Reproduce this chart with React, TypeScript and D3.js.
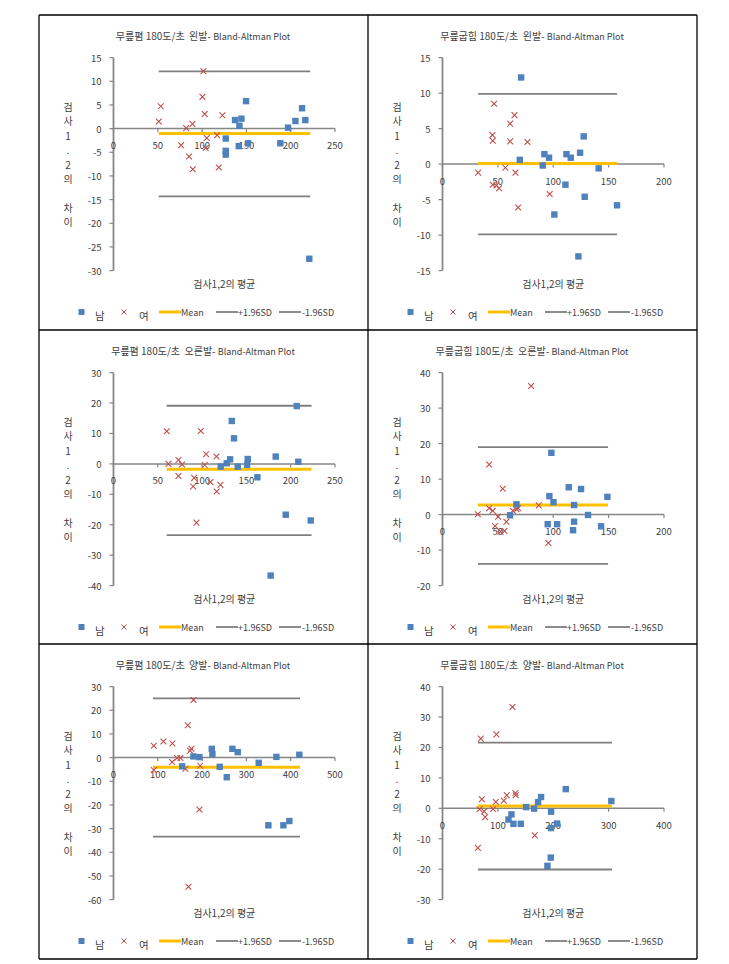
import React from "react";
import * as d3 from "d3";

// ---------- Data ----------
const legendLabels = ["남", "여", "Mean", "+1.96SD", "-1.96SD"];
const xAxisTitle = "검사1,2의 평균";
const yAxisChars = ["검", "사", "1", ".", "2", "의", "", "차", "이"];
const titleSuffix = "Bland-Altman Plot";

// Panel 1: 무릎폄 왼발
const p1Title = "무릎폄 180도/초  왼발- ";
const p1XTicks = [0, 50, 100, 150, 200, 250];
const p1YTicks = [15, 10, 5, 0, -5, -10, -15, -20, -25, -30];
const p1MaleX = [126.7, 126.7, 126.7, 137.2, 144.4, 142.1, 141.4, 149.6, 151.9, 188.3, 197, 205.3, 212.8, 216.5, 221];
const p1MaleY = [-2.1, -4.7, -5.5, 1.8, 2.1, 0.6, -3.7, 5.8, -3.1, -3.1, 0.2, 1.6, 4.3, 1.8, -27.5];
const p1FemaleX = [53.4, 51.1, 76.3, 82, 89.1, 85.3, 89.5, 101.5, 100.4, 103, 105.3, 104.1, 116.9, 118.8, 122.9];
const p1FemaleY = [4.7, 1.5, -3.5, 0.1, 1.0, -5.9, -8.6, 12.1, 6.7, 3.1, -2.0, -4.1, -1.4, -8.2, 2.8];
const p1Limits = [-1.05, 12.1, -14.3]; // mean, +1.96SD, -1.96SD
const p1LineX = [51, 222];

// Panel 2: 무릎굽힘 왼발
const p2Title = "무릎굽힘 180도/초  왼발- ";
const p2XTicks = [0, 50, 100, 150, 200];
const p2YTicks = [15, 10, 5, 0, -5, -10, -15];
const p2MaleX = [71, 69.8, 90.5, 92, 96.2, 101, 111, 111.9, 115.8, 124.2, 127.5, 128.4, 122.7, 141, 157.6];
const p2MaleY = [12.2, 0.6, -0.2, 1.4, 0.9, -7.1, -2.9, 1.4, 0.9, 1.6, 3.9, -4.6, -13, -0.6, -5.8];
const p2FemaleX = [32.2, 46.6, 45.1, 45.4, 45.4, 48.7, 51.1, 56.8, 61.1, 61.1, 65, 65.9, 68.3, 76.7, 96.8];
const p2FemaleY = [-1.2, 8.5, 4.1, 3.3, -2.9, -3.0, -3.4, -0.5, 5.7, 3.2, 6.9, -1.2, -6.1, 3.1, -4.2];
const p2Limits = [0.1, 9.9, -9.9];
const p2LineX = [32.2, 157.6];

// Panel 3: 무릎폄 오른발
const p3Title = "무릎폄 180도/초  오른발- ";
const p3XTicks = [0, 50, 100, 150, 200, 250];
const p3YTicks = [30, 20, 10, 0, -10, -20, -30, -40];
const p3MaleX = [121, 127.8, 131.6, 133.5, 136, 140.2, 150.8, 151.5, 162.4, 183.1, 194.4, 177.4, 206.8, 208.6, 222.6];
const p3MaleY = [-0.9, 0.2, 1.5, 14.1, 8.4, -0.9, -0.3, 1.6, -4.4, 2.4, -16.7, -36.7, 19, 0.7, -18.6];
const p3FemaleX = [60.2, 62, 73.3, 73.3, 77.4, 89.8, 91, 93.6, 98.5, 103, 104.5, 109.4, 116.2, 116.5, 120.7];
const p3FemaleY = [10.7, 0, 1.3, -4, -0.2, -7.4, -4.6, -19.3, 10.8, -0.4, 3.2, -6, 2.4, -9.1, -6.9];
const p3Limits = [-1.8, 19.1, -23.4];
const p3LineX = [60, 223.5];

// Panel 4: 무릎굽힘 오른발
const p4Title = "무릎굽힘 180도/초  오른발- ";
const p4XTicks = [0, 50, 100, 150, 200];
const p4YTicks = [40, 30, 20, 10, 0, -10, -20];
const p4MaleX = [61, 66.8, 95, 96.5, 98.3, 100.2, 103.5, 114, 118.8, 118.8, 117.9, 125.1, 131.4, 143.2, 148.9];
const p4MaleY = [-0.2, 2.9, -2.7, 5.2, 17.4, 3.5, -2.7, 7.7, 2.7, -2, -4.4, 7.2, -0.1, -3.3, 5];
const p4FemaleX = [31.9, 42.1, 42.1, 45.4, 47.5, 50.2, 52.3, 54.4, 56, 57.7, 63.5, 66.8, 68.3, 80, 86.9, 95.6];
const p4FemaleY = [0.1, 14.1, 1.8, 1.1, -3.2, -0.6, -4.8, 7.3, -4.6, -2, 1.1, 1.6, 1.8, 36.2, 2.6, -8];
const p4Limits = [2.7, 19, -13.9];
const p4LineX = [32, 149.5];

// Panel 5: 무릎폄 양발
const p5Title = "무릎폄 180도/초  양발- ";
const p5XTicks = [0, 100, 200, 300, 400, 500];
const p5YTicks = [30, 20, 10, 0, -10, -20, -30, -40, -50, -60];
const p5MaleX = [154.9, 180.5, 194, 221.8, 223.3, 239.8, 255.6, 268.4, 280.5, 327.8, 349.6, 367.7, 383.5, 397, 419.5];
const p5MaleY = [-3.7, 0.5, 0.2, 3.7, 1.5, -3.9, -8.3, 3.7, 2.3, -2.2, -28.6, 0.3, -28.6, -26.8, 1.2];
const p5FemaleX = [91, 91, 112.8, 133, 132.3, 143.6, 151.1, 162.4, 167.7, 172.9, 175.9, 180.5, 169.2, 195.5, 194];
const p5FemaleY = [5, -5.3, 6.8, 6, -1.9, -0.2, -0.2, -4.7, 13.7, 2.9, 3.7, 24.3, -54.6, -3.4, -21.9];
const p5Limits = [-4.05, 25.05, -33.4];
const p5LineX = [89, 421];

// Panel 6: 무릎굽힘 양발
const p6Title = "무릎굽힘 180도/초  양발- ";
const p6XTicks = [0, 100, 200, 300, 400];
const p6YTicks = [40, 30, 20, 10, 0, -10, -20, -30];
const p6MaleX = [119.1, 124.5, 128.1, 141.4, 151, 165.4, 172.6, 178, 189.5, 196.1, 196.1, 195.5, 206.9, 222.6, 304.9];
const p6MaleY = [-3.7, -2, -5.1, -5.1, 0.4, -0.1, 2, 3.7, -18.9, -1.1, -6.5, -16.2, -5, 6.3, 2.4];
const p6FemaleX = [63.8, 66.8, 69.2, 71, 75.2, 77, 91.4, 96.2, 97.4, 110.7, 116.1, 126.3, 131.7, 132.3, 166.6];
const p6FemaleY = [-13, -0.3, 22.9, 3, -1, -2.9, -0.2, 2.1, 24.3, 2.5, 4.3, 33.3, 5, 4.3, -8.9];
const p6Limits = [0.8, 21.6, -20.1];
const p6LineX = [64, 306];

// ---------- Styling / layout ----------
const W = 729;
const H = 964;
const colX = [39, 368, 697];
const rowY = [15, 330, 644, 959];
const FONT = "'Noto Sans CJK KR', 'Noto Sans', sans-serif";
const TEXT = "#404040";
const AXIS = "#868686";
const SDCOL = "#7f7f7f";
const MEANCOL = "#FFC000";
const MALE = "#4F81BD";
const FEMALE = "#BE4B48";

type Cfg = {
  title: string;
  xTicks: number[];
  yTicks: number[];
  maleX: number[];
  maleY: number[];
  femaleX: number[];
  femaleY: number[];
  limits: number[];
  lineX: number[];
  col: number;
  row: number;
};

const panels: Cfg[] = [
  { title: p1Title, xTicks: p1XTicks, yTicks: p1YTicks, maleX: p1MaleX, maleY: p1MaleY, femaleX: p1FemaleX, femaleY: p1FemaleY, limits: p1Limits, lineX: p1LineX, col: 0, row: 0 },
  { title: p2Title, xTicks: p2XTicks, yTicks: p2YTicks, maleX: p2MaleX, maleY: p2MaleY, femaleX: p2FemaleX, femaleY: p2FemaleY, limits: p2Limits, lineX: p2LineX, col: 1, row: 0 },
  { title: p3Title, xTicks: p3XTicks, yTicks: p3YTicks, maleX: p3MaleX, maleY: p3MaleY, femaleX: p3FemaleX, femaleY: p3FemaleY, limits: p3Limits, lineX: p3LineX, col: 0, row: 1 },
  { title: p4Title, xTicks: p4XTicks, yTicks: p4YTicks, maleX: p4MaleX, maleY: p4MaleY, femaleX: p4FemaleX, femaleY: p4FemaleY, limits: p4Limits, lineX: p4LineX, col: 1, row: 1 },
  { title: p5Title, xTicks: p5XTicks, yTicks: p5YTicks, maleX: p5MaleX, maleY: p5MaleY, femaleX: p5FemaleX, femaleY: p5FemaleY, limits: p5Limits, lineX: p5LineX, col: 0, row: 2 },
  { title: p6Title, xTicks: p6XTicks, yTicks: p6YTicks, maleX: p6MaleX, maleY: p6MaleY, femaleX: p6FemaleX, femaleY: p6FemaleY, limits: p6Limits, lineX: p6LineX, col: 1, row: 2 },
];

function Panel({ cfg }: { cfg: Cfg }) {
  const x0 = colX[cfg.col];
  const y0 = rowY[cfg.row];
  const left = x0 + 74.5;
  const right = x0 + 296;
  const top = y0 + 42.6;
  const bottom = y0 + 255.6;
  const xs = d3
    .scaleLinear()
    .domain(d3.extent(cfg.xTicks) as [number, number])
    .range([left, right]);
  const ys = d3
    .scaleLinear()
    .domain(d3.extent(cfg.yTicks) as [number, number])
    .range([bottom, top]);
  const zeroY = ys(0);
  const line = d3
    .line<[number, number]>()
    .x((d) => xs(d[0]))
    .y((d) => ys(d[1]));
  const limColors = [MEANCOL, SDCOL, SDCOL];
  const limWidths = [3, 1.8, 1.8];
  const cy = (top + bottom) / 2;
  const legY = y0 + 297;
  const lx = x0;

  return (
    <g>
      {/* title */}
      <text
        x={x0 + 164}
        y={y0 + 24.5}
        textAnchor="middle"
        fontFamily={FONT}
        fill={TEXT}
        style={{ whiteSpace: "pre" }}
      >
        <tspan fontSize={10}>{cfg.title}</tspan>
        <tspan fontSize={9}>{titleSuffix}</tspan>
      </text>

      {/* y axis */}
      <line x1={left} x2={left} y1={top} y2={bottom} stroke={AXIS} strokeWidth={1.8} />
      {cfg.yTicks.map((t) => (
        <g key={"y" + t}>
          <line x1={left - 4} x2={left} y1={ys(t)} y2={ys(t)} stroke={AXIS} strokeWidth={1.2} />
          <text
            x={left - 12}
            y={ys(t)}
            textAnchor="end"
            dominantBaseline="central"
            fontSize={9.5}
            fontFamily={FONT}
            fill={TEXT}
          >
            {t}
          </text>
        </g>
      ))}

      {/* x axis at zero */}
      <line x1={left} x2={right} y1={zeroY} y2={zeroY} stroke={AXIS} strokeWidth={1.5} />
      {cfg.xTicks.map((t) => (
        <g key={"x" + t}>
          <line x1={xs(t)} x2={xs(t)} y1={zeroY} y2={zeroY + 3.5} stroke={AXIS} strokeWidth={1.2} />
          <text
            x={xs(t)}
            y={zeroY + 16.5}
            textAnchor="middle"
            dominantBaseline="central"
            fontSize={9.5}
            fontFamily={FONT}
            fill={TEXT}
          >
            {t}
          </text>
        </g>
      ))}

      {/* limit lines */}
      {cfg.limits.map((v, i) => (
        <path
          key={"l" + i}
          d={line([[cfg.lineX[0], v], [cfg.lineX[1], v]]) || ""}
          stroke={limColors[i]}
          strokeWidth={limWidths[i]}
          fill="none"
        />
      ))}

      {/* female markers */}
      {cfg.femaleX.map((vx, i) => {
        const px = xs(vx);
        const py = ys(cfg.femaleY[i]);
        const s = 2.9;
        return (
          <path
            key={"f" + i}
            d={`M${px - s},${py - s}L${px + s},${py + s}M${px - s},${py + s}L${px + s},${py - s}`}
            stroke={FEMALE}
            strokeWidth={1.05}
            fill="none"
          />
        );
      })}

      {/* male markers */}
      {cfg.maleX.map((vx, i) => (
        <rect
          key={"m" + i}
          x={xs(vx) - 3.2}
          y={ys(cfg.maleY[i]) - 3.2}
          width={6.4}
          height={6.4}
          fill={MALE}
        />
      ))}

      {/* x title */}
      <text
        x={(left + right) / 2}
        y={y0 + 268}
        textAnchor="middle"
        dominantBaseline="central"
        fontSize={10}
        fontFamily={FONT}
        fill={TEXT}
      >
        {xAxisTitle}
      </text>

      {/* y title (vertical stacked) */}
      {yAxisChars.map((c, i) => (
        <text
          key={"yc" + i}
          x={x0 + 29}
          y={cy + (i - 4) * 14.4}
          textAnchor="middle"
          dominantBaseline="central"
          fontSize={10}
          fontFamily={FONT}
          fill={TEXT}
        >
          {c}
        </text>
      ))}

      {/* legend */}
      <rect x={lx + 39.5} y={legY - 3} width={6} height={6} fill={MALE} />
      <text x={lx + 56} y={legY + 3} dominantBaseline="central" fontSize={10.5} fontFamily={FONT} fill={TEXT}>
        {legendLabels[0]}
      </text>
      <path
        d={`M${lx + 82.5},${legY - 2.5}L${lx + 87.5},${legY + 2.5}M${lx + 82.5},${legY + 2.5}L${lx + 87.5},${legY - 2.5}`}
        stroke={FEMALE}
        strokeWidth={1}
      />
      <text x={lx + 100} y={legY + 3} dominantBaseline="central" fontSize={10.5} fontFamily={FONT} fill={TEXT}>
        {legendLabels[1]}
      </text>
      <line x1={lx + 120} x2={lx + 142} y1={legY} y2={legY} stroke={MEANCOL} strokeWidth={3} />
      <text x={lx + 142} y={legY} dominantBaseline="central" fontSize={9} fontFamily={FONT} fill={TEXT}>
        {legendLabels[2]}
      </text>
      <line x1={lx + 177} x2={lx + 199} y1={legY} y2={legY} stroke={SDCOL} strokeWidth={1.8} />
      <text x={lx + 199} y={legY} dominantBaseline="central" fontSize={9} fontFamily={FONT} fill={TEXT}>
        {legendLabels[3]}
      </text>
      <line x1={lx + 240} x2={lx + 262} y1={legY} y2={legY} stroke={SDCOL} strokeWidth={1.8} />
      <text x={lx + 263} y={legY} dominantBaseline="central" fontSize={9} fontFamily={FONT} fill={TEXT}>
        {legendLabels[4]}
      </text>
    </g>
  );
}

export default function App() {
  return (
    <svg
      width={W}
      height={H}
      viewBox={`0 0 ${W} ${H}`}
      style={{ position: "absolute", left: 0, top: 0, background: "#fff" }}
    >
      <rect x={0} y={0} width={W} height={H} fill="#fff" />
      {panels.map((p, i) => (
        <Panel key={i} cfg={p} />
      ))}
      {/* table borders */}
      {colX.map((x) => (
        <line key={"bx" + x} x1={x} x2={x} y1={rowY[0]} y2={rowY[3]} stroke="#000" strokeWidth={1.3} />
      ))}
      {rowY.map((y) => (
        <line key={"by" + y} x1={colX[0]} x2={colX[2]} y1={y} y2={y} stroke="#000" strokeWidth={1.3} />
      ))}
    </svg>
  );
}
